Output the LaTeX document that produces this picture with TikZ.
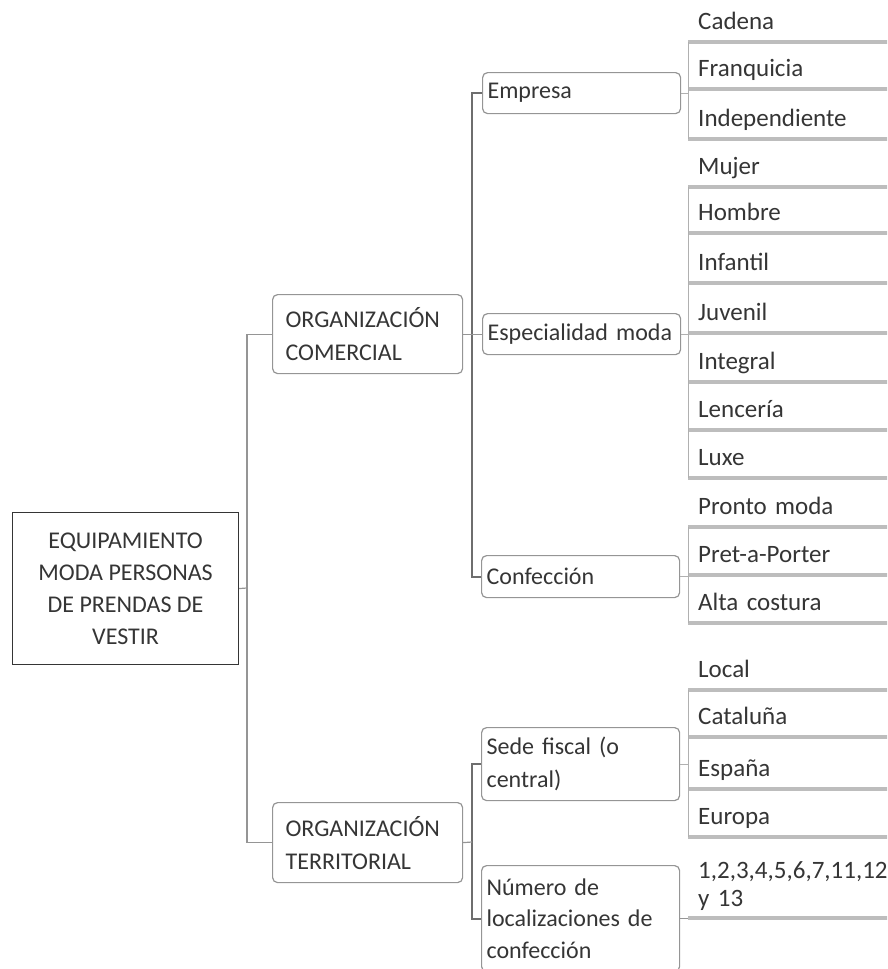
\documentclass[tikz,border=0pt]{standalone}
\usepackage{fontspec}
\setmainfont{Carlito}
\definecolor{txt}{HTML}{353535}
\definecolor{lnA}{HTML}{959595}
\definecolor{lnB}{HTML}{6E6E6E}
\definecolor{lnC}{HTML}{B0B0B0}
\definecolor{ul}{HTML}{BDBDBD}
\begin{document}
\begin{tikzpicture}[x=1pt,y=-1pt,
  every node/.style={text=txt},
  rootbox/.style={anchor=north west, draw=txt, line width=1.1pt, minimum width=226pt, minimum height=152pt, align=center, inner sep=0pt, font=\fontsize{24}{32}\selectfont},
  box/.style={anchor=north west, draw=lnA, line width=1.2pt, rounded corners=5pt, align=left, inner ysep=0pt, font=\fontsize{24}{33}\selectfont},
  orgbox/.style={box, inner xsep=13pt, text width=164pt},
  subbox/.style={box, inner xsep=5pt, text width=188pt},
  leaf/.style={anchor=south west, inner xsep=10pt, text width=185pt, align=left, inner ysep=6pt, text height=17pt, text depth=6pt, font=\fontsize{25}{28}\selectfont},
  leafmulti/.style={anchor=south west, inner xsep=10pt, text width=185pt, align=left, inner ysep=7pt, font=\fontsize{25}{28}\selectfont},
  conn/.style={draw=lnA, line width=1.2pt},
  conn2/.style={draw=lnB, line width=1.8pt},
  lconn/.style={draw=lnC, line width=1pt},
  uline/.style={draw=ul, line width=3.2pt}
]
\useasboundingbox (0,0) rectangle (887,969);
\clip (0,0) rectangle (887,969);

% root
\node[rootbox] (root) at (12,512) {EQUIPAMIENTO\\MODA PERSONAS\\DE PRENDAS DE\\VESTIR};

% level 1
\node[orgbox, minimum height=79pt] (oc) at (272,294) {ORGANIZACIÓN\\COMERCIAL};
\node[orgbox, minimum height=80pt] (ot) at (272,802) {ORGANIZACIÓN\\TERRITORIAL};

% level 2
\node[subbox, minimum height=41pt] (emp) at (482,72) {Empresa};
\node[subbox, minimum height=41pt] (esp) at (482,313) {Especialidad moda};
\node[subbox, minimum height=42pt] (conf) at (481,555) {Confección};
\node[subbox, minimum height=73pt] (sede) at (481,727) {Sede fiscal (o\\central)};
\node[subbox, minimum height=106pt, font=\fontsize{24}{31.5}\selectfont] (num) at (481,865) {Número de\\localizaciones de\\confección};

% leaves
\node[leaf] (cad) at (688,42) {Cadena};
\node[leaf] (fra) at (688,89) {Franquicia};
\node[leaf] (ind) at (688,139) {Independiente};
\node[leaf] (muj) at (688,187) {Mujer};
\node[leaf] (hom) at (688,233) {Hombre};
\node[leaf] (inf) at (688,283) {Infantil};
\node[leaf] (juv) at (688,333) {Juvenil};
\node[leaf] (itg) at (688,382) {Integral};
\node[leaf] (len) at (688,430) {Lencería};
\node[leaf] (lux) at (688,478) {Luxe};
\node[leaf] (pro) at (688,527) {Pronto moda};
\node[leaf] (pre) at (688,575) {Pret-a-Porter};
\node[leaf] (alt) at (688,623) {Alta costura};
\node[leaf] (loc) at (688,690) {Local};
\node[leaf] (cat) at (688,737) {Cataluña};
\node[leaf] (spa) at (688,789) {España};
\node[leaf] (eur) at (688,837) {Europa};
\node[leafmulti] (nums) at (688,918) {1,2,3,4,5,6,7,11,12\\y 13};

% underlines
\foreach \n in {cad,fra,ind,muj,hom,inf,juv,itg,len,lux,pro,pre,alt,loc,cat,spa,eur,nums}
  \draw[uline] (\n.south west) -- (\n.south east);

% root connectors
\coordinate (j0) at (247,588);
\draw[conn] (root.east) -- (j0);
\draw[conn] (oc.west) -| (j0) |- (ot.west);

% level 2 connectors
\coordinate (j1) at (472,333);
\draw[conn2] (emp.west) -| (j1) |- (conf.west);
\draw[conn] (oc.east) -- (esp.west);
\coordinate (j2) at (472,842);
\draw[conn2] (sede.west) -| (j2) |- (num.west);
\draw[conn] (ot.east) -- (j2);

% leaf connectors
\draw[lconn] (emp.east) -- (emp.east -| cad.south west);
\draw[lconn] (cad.south west) -- (ind.south west);
\draw[lconn] (esp.east) -- (esp.east -| muj.south west);
\draw[lconn] (muj.south west) -- (lux.south west);
\draw[lconn] (conf.east) -- (conf.east -| pro.south west);
\draw[lconn] (pro.south west) -- (alt.south west);
\draw[lconn] (sede.east) -- (sede.east -| loc.south west);
\draw[lconn] (loc.south west) -- (eur.south west);
\draw[conn] (num.east) -- (num.east -| nums.south west);
\end{tikzpicture}
\end{document}
